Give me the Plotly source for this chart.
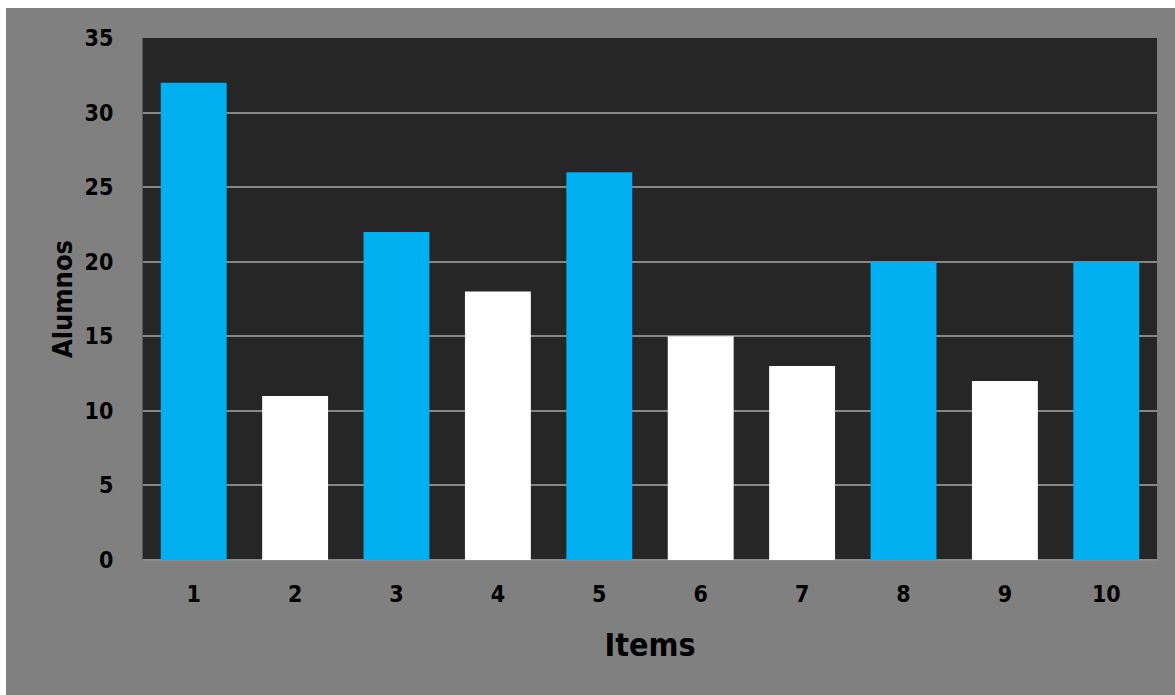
import plotly.graph_objects as go

items = ["1", "2", "3", "4", "5", "6", "7", "8", "9", "10"]
alumnos = [32, 11, 22, 18, 26, 15, 13, 20, 12, 20]
bar_colors = ["#00B0F0", "#FFFFFF", "#00B0F0", "#FFFFFF", "#00B0F0",
              "#FFFFFF", "#FFFFFF", "#00B0F0", "#FFFFFF", "#00B0F0"]
y_ticks = [0, 5, 10, 15, 20, 25, 30, 35]

FONT = "Agency FB, Liberation Sans Narrow, DejaVu Sans Condensed, Arial Narrow, sans-serif"

W, H = 1175, 695
L, R, T, B = 143, 18, 38, 135
pw, ph = W - L - R, H - T - B

def px_x(p):
    return (p - L) / pw

def px_y(p):
    return (H - B - p) / ph

fig = go.Figure(go.Bar(
    x=items, y=alumnos, marker=dict(color=bar_colors, line=dict(width=0)),
))

fig.update_layout(
    width=W, height=H,
    margin=dict(l=L, r=R, t=T, b=B),
    paper_bgcolor="#808080",
    plot_bgcolor="#262626",
    bargap=0.35,
    showlegend=False,
    font=dict(family=FONT, color="#000000"),
    shapes=[
        dict(type="rect", xref="paper", yref="paper", x0=px_x(0), x1=px_x(W),
             y0=px_y(0), y1=px_y(8), fillcolor="#FFFFFF", line=dict(width=0), layer="above"),
        dict(type="rect", xref="paper", yref="paper", x0=px_x(0), x1=px_x(6),
             y0=px_y(0), y1=px_y(H), fillcolor="#FFFFFF", line=dict(width=0), layer="above"),
    ],
)

fig.update_xaxes(
    type="category",
    tickfont=dict(family=FONT, size=23, weight="bold", color="#000000"),
    ticklabelstandoff=18,
    showgrid=False,
    showline=False,
    title=dict(text="Items", font=dict(family=FONT, size=32, weight="bold", color="#000000"), standoff=27),
    automargin=False,
)
fig.update_yaxes(
    range=[0, 35],
    tickvals=y_ticks,
    tickfont=dict(family=FONT, size=23, weight="bold", color="#000000"),
    ticklabelstandoff=24,
    showgrid=True, gridcolor="#868686", gridwidth=2,
    zeroline=True, zerolinecolor="#8a8a8a", zerolinewidth=2,
    showline=True, linecolor="#5a5a5a", linewidth=1,
    title=dict(text="Alumnos", font=dict(family=FONT, size=27, weight="bold", color="#000000"), standoff=4),
    automargin=False,
)

fig.write_html("out.html")
